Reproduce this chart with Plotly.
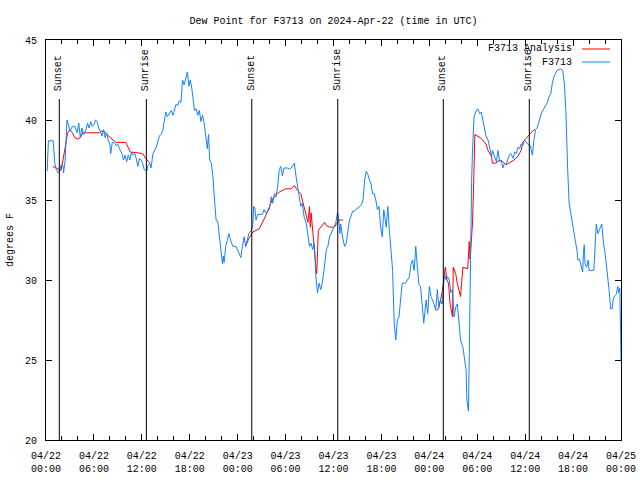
import pandas as pd
import plotly.graph_objects as go

title_text = "Dew Point for F3713 on 2024-Apr-22 (time in UTC)"
base_time = pd.Timestamp("2024-04-22 00:00")
x_range = ["2024-04-22 00:00", "2024-04-25 00:00"]
y_range = [20, 45]

# F3713 observations: hours after 2024-04-22 00:00 UTC, dew point (F)
obs_hours = [0.15, 0.3, 0.9, 1.1, 1.3, 1.5, 1.7, 1.9, 2.1, 2.2, 2.4, 2.5, 2.63, 2.8, 3.0, 3.3, 3.6, 3.9,
             4.1, 4.3, 4.5, 4.7, 5.0, 5.2, 5.4, 5.6, 5.8, 6.0, 6.2, 6.4, 6.6, 6.8, 7.0, 7.2, 7.4, 7.6,
             7.8, 8.0, 8.1, 8.3, 8.5, 8.8, 9.0, 9.2, 9.5, 9.7, 9.9, 10.1, 10.3, 10.5, 10.7, 10.9, 11.1,
             11.3, 11.5, 11.7, 11.9, 12.1, 12.3, 12.6, 12.8, 13.0, 13.15, 13.4, 13.6, 13.8, 14.2, 14.4,
             14.6, 14.8, 15.0, 15.2, 15.4, 15.7, 15.9, 16.1, 16.3, 16.5, 16.7, 16.9, 17.1, 17.3, 17.5,
             17.7, 17.9, 18.05, 18.2, 18.4, 18.6, 18.8, 19.0, 19.2, 19.4, 19.6, 19.8, 20.0, 20.2, 20.35,
             20.5, 20.7, 20.9, 21.1, 21.3, 21.5, 21.7, 21.9, 22.1, 22.2, 22.3, 22.5, 22.7, 22.9, 23.1,
             23.4, 23.8, 24.2, 24.4, 24.6, 24.8, 25.0, 25.2, 25.4, 25.7, 25.9, 26.0, 26.15, 26.3, 26.5,
             26.7, 27.1, 27.3, 27.5, 27.97, 28.2, 28.4, 28.6, 28.8, 29.0, 29.2, 29.4, 29.6, 29.8, 30.3,
             30.5, 30.7, 31.1, 31.3, 31.5, 31.7, 31.9, 32.1, 32.3, 32.6, 32.8, 33.0, 33.2, 33.4, 33.6,
             33.8, 34.0, 34.2, 34.4, 34.6, 34.9, 35.1, 35.3, 35.5, 35.7, 35.9, 36.1, 36.3, 36.5, 36.65,
             36.8, 36.9, 37.2, 37.4, 37.6, 37.8, 38.0, 38.2, 38.4, 38.6, 38.8, 39.2, 39.5, 39.7, 39.9,
             40.1, 40.3, 40.5, 40.7, 40.9, 41.1, 41.3, 41.5, 41.7, 41.9, 42.1, 42.3, 42.6, 42.8, 43.0,
             43.2, 43.4, 43.6, 43.8, 44.0, 44.2, 44.4, 44.6, 45.0, 45.5, 45.7, 45.9, 46.1, 46.3, 46.5,
             46.7, 46.9, 47.1, 47.3, 47.6, 47.8, 48.0, 48.2, 48.4, 48.6, 48.8, 49.0, 49.2, 49.4, 49.6,
             49.9, 50.1, 50.3, 50.5, 50.7, 50.9, 51.1, 51.3, 51.5, 51.7, 51.9, 52.2, 52.4, 52.6, 52.7,
             52.9, 53.0, 53.1, 53.2, 53.3, 53.4, 53.5, 53.6, 53.8, 54.05, 54.3, 54.5, 54.7, 54.9, 55.1,
             55.35, 55.6, 55.8, 55.9, 56.1, 56.4, 56.6, 56.8, 57.0, 57.2, 57.4, 57.6, 57.8, 58.0, 58.2,
             58.5, 58.7, 58.9, 59.1, 59.3, 59.5, 59.7, 59.9, 60.3, 60.65, 60.9, 61.1, 61.3, 61.5, 61.7,
             61.9, 62.1, 62.4, 62.6, 62.8, 63.0, 63.2, 63.4, 63.6, 63.8, 64.0, 64.4, 64.7, 64.9, 65.1,
             65.3, 65.5, 65.7, 65.9, 66.3, 66.5, 66.6, 66.8, 67.0, 67.2, 67.3, 67.4, 67.5, 67.7, 67.9,
             68.0, 68.6, 68.8, 68.9, 69.1, 69.3, 69.5, 69.6, 69.8, 70.0, 70.2, 70.4, 70.5, 70.7, 70.9,
             71.0, 71.2, 71.4, 71.6, 71.7, 71.85, 71.95, 72.0]
obs_values = [36.8, 38.7, 38.7, 37.3, 36.9, 36.7, 36.8, 37.2, 37.2, 36.7, 37.5, 38.8, 40.0, 39.7, 39.3, 39.6, 39.6, 39.2,
              39.8, 38.9, 39.5, 39.1, 39.4, 39.8, 39.5, 39.9, 39.6, 39.7, 40.0, 39.9, 39.5, 39.3, 39.0, 39.4, 38.9, 39.2,
              38.7, 38.5, 37.9, 38.6, 38.6, 38.4, 38.5, 38.2, 37.9, 37.5, 37.8, 37.4, 37.8, 37.5, 38.0, 37.8, 37.9,
              37.6, 37.1, 37.6, 37.5, 37.3, 36.9, 36.8, 37.2, 37.3, 37.0, 37.9, 38.1, 38.3, 39.0, 39.1,
              39.3, 39.8, 40.5, 40.2, 40.4, 40.6, 40.3, 40.7, 41.0, 40.9, 41.2, 41.1, 42.5, 42.2, 42.6,
              43.0, 42.1, 42.5, 42.2, 41.5, 40.6, 40.7, 40.3, 40.6, 39.9, 40.3, 39.8, 39.0, 38.2, 39.1,
              37.5, 37.3, 36.5, 35.0, 33.75, 33.7, 32.9, 32.1, 31.0, 31.5, 31.1, 32.1, 32.5, 32.9, 32.5,
              32.1, 32.1, 31.7, 31.4, 32.1, 32.7, 32.1, 32.6, 32.9, 33.1, 33.4, 34.6, 34.5, 33.75, 34.1,
              34.1, 34.1, 34.4, 34.2, 34.4, 35.2, 34.8, 35.4, 35.2, 35.8, 36.9, 37.1, 36.5, 37.0, 37.0,
              36.9, 37.0, 37.3, 36.5, 35.8, 35.2, 34.6, 34.8, 34.0, 33.5, 32.9, 32.1, 32.3, 31.9, 32.3,
              30.2, 29.2, 29.8, 29.4, 29.8, 31.0, 31.9, 32.1, 32.7, 32.9, 33.1, 33.4, 33.6, 34.2, 33.9,
              32.9, 33.5, 32.5, 32.1, 32.3, 32.9, 33.75, 34.0, 34.3, 34.3, 34.4, 34.6, 34.7, 35.0, 36.25,
              36.8, 36.6, 36.25, 36.0, 35.4, 35.4, 35.0, 34.4, 34.6, 33.3, 32.7, 34.4, 33.3, 34.6, 33.1,
              31.9, 30.6, 27.3, 26.25, 27.5, 27.7, 28.75, 29.8, 29.8, 30.2, 31.0, 31.25, 30.6, 32.1, 30.8,
              29.7, 29.6, 28.5, 27.3, 28.75, 27.9, 29.6, 28.96, 28.75, 28.5, 28.1, 29.4, 28.3, 28.75, 28.5,
              30.4, 30.0, 30.2, 30.0, 29.2, 29.4, 27.7, 28.3, 28.5, 27.5, 26.25, 25.8, 25.0, 24.4, 22.5,
              21.8, 25.4, 30.4, 33.3, 36.25, 38.0, 39.4, 40.2, 40.5, 40.7, 40.4, 40.5, 40.0, 39.4, 39.0,
              38.75, 38.1, 37.7, 38.1, 37.8, 37.4, 38.1, 37.4, 37.5, 37.0, 37.3, 37.2, 37.5, 37.8, 37.9,
              37.6, 38.0, 37.9, 38.3, 38.2, 38.5, 38.4, 38.75, 38.5, 38.4, 37.8, 38.75, 39.4, 39.5, 39.9,
              40.2, 40.5, 40.8, 41.0, 41.1, 41.5, 41.6, 42.3, 42.7, 42.9, 43.1, 43.2, 43.1, 42.3, 40.6,
              37.2, 34.8, 34.2, 33.5, 32.4, 31.8, 31.25, 31.3, 30.8, 30.5, 31.7, 32.2, 31.0, 30.8, 31.25,
              30.6, 30.6, 32.7, 33.5, 32.9, 33.1, 33.4, 33.5, 32.3, 31.7, 30.8, 30.0, 29.4, 28.2, 28.2,
              28.75, 29.0, 29.1, 29.6, 29.2, 29.5, 26.6, 25.0]

# F3713 Analysis (None = no analysis)
ana_hours = [0.84, 1.25, 1.88, 2.13, 2.4, 2.71, 3.0, 3.3, 3.6, 3.97, 4.3, 4.6, 5.0, 6.7, 6.9, 7.3, 7.6, 7.93,
             8.35, 8.77, 10.0, 10.3, 10.55, 11.5, 12.1, 12.5, 12.8, 13.0, 19.0,
             25.0, 25.4, 25.9, 26.7, 27.5, 28.4, 29.2, 30.0, 30.7, 31.1, 31.5, 31.9, 32.1, 32.3, 32.6,
             32.8, 33.0, 33.1, 33.2, 33.4, 33.6, 33.8, 33.9, 34.0, 34.1, 34.4, 34.9, 35.1, 35.5, 36.1,
             36.5, 36.7, 37.2, 43.0,
             49.0, 49.2, 49.4, 49.6, 49.9, 50.0, 50.2, 50.4, 50.6, 50.8, 50.9, 51.0, 51.3, 51.5, 51.7,
             51.9, 52.2, 52.8, 52.9, 53.0, 53.1, 53.25, 53.4, 53.55, 53.7, 54.5, 55.1, 55.35, 55.8, 55.9,
             56.3, 56.8, 57.2, 57.6, 58.0, 58.6, 59.1, 59.5, 59.7, 60.1, 60.5, 60.9, 61.2]
ana_values = [37.1, 37.0, 36.85, 37.5, 38.3, 39.2, 39.4, 39.2, 38.9, 38.8, 38.9, 39.2, 39.2, 39.2, 39.3, 39.3, 39.1, 38.96,
              38.75, 38.6, 38.6, 38.3, 38.0, 37.95, 37.9, 37.6, 37.4, 37.35, None,
              32.1, 32.6, 33.0, 33.2, 34.0, 35.1, 35.5, 35.7, 35.7, 35.9, 35.6, 35.4, 35.0, 34.6, 33.96,
              33.6, 34.6, 33.3, 34.2, 32.9, 31.9, 30.8, 30.4, 31.7, 33.1, 33.3, 33.6, 33.4, 33.3, 33.3,
              33.6, 33.75, 33.75, None,
              28.1, 28.3, 28.75, 29.2, 30.4, 30.8, 30.0, 29.8, 28.5, 27.9, 27.7, 30.8, 30.4, 29.8, 29.4,
              28.96, 30.8, 30.7, 31.5, 32.4, 31.3, 32.3, 33.5, 36.0, 39.1, 38.85, 38.5, 38.1, 37.7, 37.3,
              37.3, 37.5, 37.4, 37.2, 37.3, 37.5, 37.75, 38.1, 38.6, 38.85, 39.1, 39.3, 39.4]

sun_times = ["2024-04-22 01:40", "2024-04-22 12:34", "2024-04-23 01:46",
             "2024-04-23 12:32", "2024-04-24 01:45", "2024-04-24 12:31"]
sun_labels = ["Sunset", "Sunrise", "Sunset", "Sunrise", "Sunset", "Sunrise"]

series_names = ["F3713 Analysis", "F3713"]
series_colors = ["#ff0000", "#1482ff"]

obs_times = [base_time + pd.Timedelta(hours=h) for h in obs_hours]
ana_times = [base_time + pd.Timedelta(hours=h) for h in ana_hours]

FONT = "Liberation Mono, DejaVu Sans Mono, monospace"

fig = go.Figure()
fig.add_trace(go.Scatter(x=ana_times, y=ana_values, mode="lines", name=series_names[0],
                         line=dict(color=series_colors[0], width=1), connectgaps=False))
fig.add_trace(go.Scatter(x=obs_times, y=obs_values, mode="lines", name=series_names[1],
                         line=dict(color=series_colors[1], width=1)))

shapes = []
annotations = []
line_top = 0.8525
for t, lab in zip(sun_times, sun_labels):
    shapes.append(dict(type="line", xref="x", yref="paper", x0=t, x1=t, y0=0, y1=line_top,
                       line=dict(color="black", width=1)))
    annotations.append(dict(x=t, y=0.8675, xref="x", yref="paper", text=lab, showarrow=False,
                            textangle=-90, xanchor="center", yanchor="bottom",
                            font=dict(family=FONT, size=10, color="black")))

# legend (text on the left, line sample on the right, as in the reference)
leg_y = [0.9775, 0.945]
for name, col, yy in zip(series_names, series_colors, leg_y):
    annotations.append(dict(x=0.9183, y=yy, xref="paper", yref="paper", text=name, showarrow=False,
                            xanchor="right", yanchor="middle",
                            font=dict(family=FONT, size=10, color="black")))
    shapes.append(dict(type="line", xref="paper", yref="paper", x0=0.9322, x1=0.9809, y0=yy, y1=yy,
                       line=dict(color=col, width=1)))

annotations.append(dict(x=-0.0626, y=0.5, xref="paper", yref="paper", text="degrees F", showarrow=False,
                        textangle=-90, xanchor="center", yanchor="middle",
                        font=dict(family=FONT, size=10, color="black")))

fig.update_layout(
    width=640, height=480,
    margin=dict(l=46, r=19, t=40, b=40, autoexpand=False),
    paper_bgcolor="white", plot_bgcolor="white",
    showlegend=False,
    title=dict(text=title_text, x=0.5, xref="paper", xanchor="center", y=1 - 20 / 480, yanchor="middle",
               yref="container", automargin=False,
               font=dict(family=FONT, size=10, color="black")),
    shapes=shapes, annotations=annotations,
    font=dict(family=FONT, size=10, color="black"),
)
fig.update_xaxes(type="date", range=x_range, showgrid=False, zeroline=False, automargin=False,
                 showline=True, linecolor="black", linewidth=1, mirror="ticks",
                 ticks="inside", ticklen=6, tickcolor="black", ticklabelstandoff=6,
                 dtick=6 * 3600 * 1000, tick0="2024-04-22 00:00", tickformat="%m/%d<br>%H:%M",
                 minor=dict(dtick=2 * 3600 * 1000, ticks="inside", ticklen=4, tickcolor="black", showgrid=False),
                 tickfont=dict(family=FONT, size=10, color="black"))
fig.update_yaxes(range=y_range, showgrid=False, zeroline=False, automargin=False,
                 showline=True, linecolor="black", linewidth=1, mirror="ticks",
                 ticks="inside", ticklen=6, tickcolor="black", dtick=5, ticklabelstandoff=6,
                 tickfont=dict(family=FONT, size=10, color="black"))

# remove the browser's default 8px page margin so the figure fills the window exactly
fig.write_html("out.html", config={"displayModeBar": False},
               post_script="document.body.style.margin='0px';")
